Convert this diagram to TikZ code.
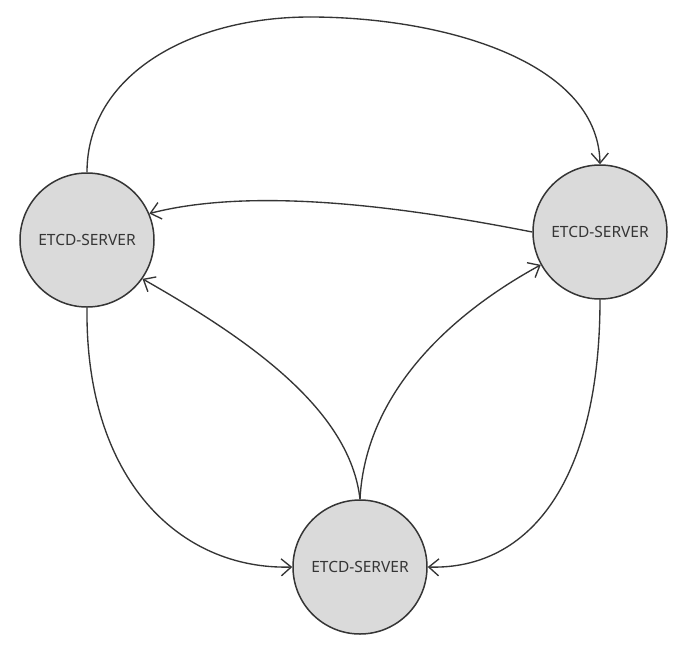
\documentclass[tikz,border=0pt]{standalone}
\usepackage{fontspec}
\setmainfont{Noto Sans}
\usetikzlibrary{arrows.meta}
\definecolor{ink}{HTML}{353535}
\definecolor{nodefill}{HTML}{DADADA}
\tikzset{
  server/.style={circle, draw=ink, line width=1.5pt, fill=nodefill, minimum size=134pt, inner sep=0pt, text=ink, font=\fontsize{15.5}{18}\selectfont},
  plainlink/.style={draw=ink, line width=1.35pt},
  link/.style={plainlink, -{Straight Barb[length=10pt,width=17pt,line width=1.35pt]}}
}
\begin{document}
\begin{tikzpicture}[x=1pt,y=-1pt]
\useasboundingbox[fill=white] (0,0) rectangle (688,654);
\node[server] (L) at (87,240) {ETCD-SERVER};
\node[server] (R) at (600,232) {ETCD-SERVER};
\node[server] (B) at (360,567) {ETCD-SERVER};
\coordinate (top) at (310,17);
\draw[plainlink] (L.north) .. controls (87,75) and (190,17) .. (top);
\draw[link] (top) .. controls (440,17) and (598,60) .. (R.north);
\draw[link] (R.west) .. controls (420,210) and (260,185) .. (L.23);
\draw[link] (B.north) .. controls (350,410) and (250,340) .. (L.-35);
\draw[link] (B.north) .. controls (365,400) and (440,320) .. (R.-151);
\draw[link] (L.south) .. controls (85,480) and (180,570) .. (B.west);
\draw[link] (R.south) .. controls (600,480) and (530,570) .. (B.east);
\end{tikzpicture}
\end{document}
